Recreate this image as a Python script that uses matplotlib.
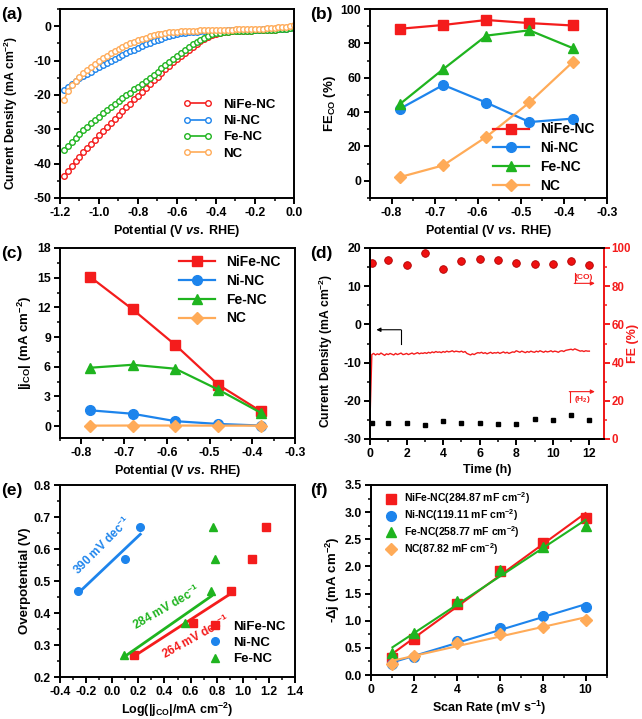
import matplotlib
matplotlib.use("Agg")
import matplotlib.pyplot as plt
from matplotlib.ticker import MultipleLocator
import numpy as np

plt.rcParams["font.family"] = ["Liberation Sans", "DejaVu Sans"]
plt.rcParams["font.weight"] = "bold"
plt.rcParams["axes.labelweight"] = "bold"
plt.rcParams["axes.unicode_minus"] = False
plt.rcParams["mathtext.fontset"] = "custom"
plt.rcParams["mathtext.rm"] = "Liberation Sans:bold"
plt.rcParams["mathtext.bf"] = "Liberation Sans:bold"
plt.rcParams["mathtext.it"] = "Liberation Sans:italic:bold"
plt.rcParams["axes.linewidth"] = 1.4
for ax_ in ("xtick", "ytick"):
    plt.rcParams[ax_ + ".major.width"] = 1.4
    plt.rcParams[ax_ + ".minor.width"] = 1.1
    plt.rcParams[ax_ + ".major.size"] = 4
    plt.rcParams[ax_ + ".minor.size"] = 2.5
    plt.rcParams[ax_ + ".labelsize"] = 8.8
    plt.rcParams[ax_ + ".major.pad"] = 2.5

RED = "#f41c1c"
BLUE = "#1d84ec"
GREEN = "#1fb41f"
ORANGE = "#ffab58"

samples = ["NiFe-NC", "Ni-NC", "Fe-NC", "NC"]
colors = [RED, BLUE, GREEN, ORANGE]

# ---- (a) LSV curves
lsv_potential = np.round(np.linspace(-1.18, 0.0, 60), 2)
lsv_nife = [-43.5, -42.1, -40.7, -39.3, -38.0, -36.7, -35.4, -34.2, -33.0, -31.8,
            -30.6, -29.4, -28.2, -27.0, -25.8, -24.7, -23.6, -22.5, -21.3, -20.2,
            -19.1, -18.0, -16.9, -15.8, -14.7, -13.6, -12.5, -11.5, -10.5, -9.5,
            -8.6, -7.7, -6.8, -6.0, -5.2, -4.4, -3.7, -3.1, -2.6, -2.2,
            -1.9, -1.7, -1.6, -1.5, -1.5, -1.4, -1.4, -1.3, -1.3, -1.2,
            -1.2, -1.1, -1.1, -1.0, -1.0, -0.9, -0.8, -0.7, -0.6, -0.5]
lsv_ni = [-18.5, -17.6, -16.7, -15.9, -15.2, -14.5, -13.8, -13.2, -12.6, -12.0,
          -11.4, -10.8, -10.2, -9.6, -9.0, -8.4, -7.9, -7.3, -6.8, -6.3,
          -5.8, -5.3, -4.8, -4.4, -4.0, -3.6, -3.2, -2.9, -2.6, -2.3,
          -2.1, -1.9, -1.8, -1.7, -1.6, -1.5, -1.5, -1.4, -1.4, -1.3,
          -1.3, -1.3, -1.2, -1.2, -1.2, -1.1, -1.1, -1.1, -1.0, -1.0,
          -1.0, -0.9, -0.9, -0.9, -0.8, -0.8, -0.7, -0.7, -0.6, -0.5]
lsv_fe = [-36.0, -34.8, -33.6, -32.4, -31.3, -30.3, -29.3, -28.3, -27.3, -26.3,
          -25.4, -24.5, -23.6, -22.7, -21.8, -21.0, -20.1, -19.3, -18.4, -17.6,
          -16.7, -15.9, -15.0, -14.1, -13.2, -12.3, -11.4, -10.5, -9.6, -8.7,
          -7.8, -6.9, -6.1, -5.3, -4.6, -3.9, -3.3, -2.8, -2.4, -2.1,
          -1.9, -1.7, -1.6, -1.5, -1.5, -1.4, -1.4, -1.3, -1.3, -1.2,
          -1.2, -1.1, -1.1, -1.0, -1.0, -0.9, -0.8, -0.7, -0.6, -0.5]
lsv_nc = [-21.5, -18.8, -17.2, -16.0, -14.8, -13.7, -12.8, -11.9, -11.0, -10.2,
          -9.4, -8.6, -7.9, -7.2, -6.6, -6.0, -5.5, -5.0, -4.5, -4.1,
          -3.7, -3.3, -3.0, -2.7, -2.4, -2.2, -2.0, -1.8, -1.7, -1.6,
          -1.5, -1.4, -1.4, -1.3, -1.3, -1.2, -1.2, -1.2, -1.1, -1.1,
          -1.1, -1.0, -1.0, -1.0, -0.9, -0.9, -0.9, -0.8, -0.8, -0.8,
          -0.7, -0.7, -0.6, -0.5, -0.4, -0.3, -0.2, -0.1, 0.1, 0.3]

# ---- (b), (c) product analysis
potential = [-0.78, -0.68, -0.58, -0.48, -0.38]
fe_co = {
    "NiFe-NC": [88.5, 90.7, 93.6, 91.8, 90.4],
    "Ni-NC": [42.0, 55.8, 45.5, 34.2, 36.2],
    "Fe-NC": [44.8, 65.0, 84.5, 87.6, 77.3],
    "NC": [2.2, 9.0, 25.6, 45.6, 69.0],
}
j_co = {
    "NiFe-NC": [15.1, 11.8, 8.2, 4.2, 1.5],
    "Ni-NC": [1.6, 1.25, 0.5, 0.22, 0.06],
    "Fe-NC": [5.9, 6.2, 5.8, 3.7, 1.35],
    "NC": [0.05, 0.06, 0.06, 0.05, 0.05],
}

# ---- (d) stability
stab_time = np.linspace(0, 12, 121)
stab_j = [-25.0, -7.9, -7.6, -8.0, -7.7, -7.9, -7.5, -7.8, -8.1, -7.7,
          -7.9, -7.6, -7.8, -8.0, -7.6, -7.9, -7.7, -7.5, -7.9, -7.8,
          -7.6, -7.9, -7.7, -7.5, -7.8, -7.6, -7.4, -7.7, -7.5, -7.6,
          -7.4, -7.6, -7.3, -7.5, -7.2, -7.4, -7.1, -7.3, -7.2, -7.4,
          -7.1, -7.3, -7.0, -7.2, -7.1, -6.9, -7.2, -7.0, -7.1, -7.2,
          -7.0, -7.3, -7.1, -7.6, -7.8, -8.0, -7.7, -7.9, -7.6, -7.4,
          -7.5, -7.3, -7.6, -7.4, -7.7, -7.5, -7.3, -7.6, -7.4, -7.5,
          -7.3, -7.6, -7.4, -7.2, -7.5, -7.3, -7.6, -7.4, -7.2, -7.3,
          -6.9, -7.1, -7.3, -7.0, -7.2, -7.4, -7.1, -7.3, -7.0, -7.2,
          -7.3, -7.0, -7.2, -6.9, -7.1, -7.3, -7.0, -7.2, -7.1, -6.9,
          -7.2, -7.0, -7.1, -7.3, -7.0, -6.9, -7.1, -6.8, -6.7, -6.6,
          -6.5, -6.7, -6.4, -6.6, -6.8, -7.0, -6.9, -7.1, -6.9, -7.0,
          -7.0]
fe_time = [0.1, 1, 2, 3, 4, 5, 6, 7, 8, 9, 10, 11, 12]
fe_co_time = [92.3, 93.7, 90.9, 97.4, 89.1, 93.1, 94.4, 93.5, 92.3, 91.7, 91.6, 93.1, 90.9]
fe_h2_time = [8.6, 8.6, 8.3, 7.4, 9.3, 8.6, 8.6, 7.9, 7.9, 10.5, 10.0, 12.7, 9.8]

# ---- (e) Tafel
tafel_names = ["NiFe-NC", "Ni-NC", "Fe-NC"]
tafel_x = {
    "NiFe-NC": [0.165, 0.62, 0.91, 1.07, 1.175],
    "Ni-NC": [-0.26, 0.10, 0.215],
    "Fe-NC": [0.09, 0.555, 0.76, 0.79, 0.77],
}
tafel_eta = {
    "NiFe-NC": [0.27, 0.37, 0.47, 0.57, 0.67],
    "Ni-NC": [0.47, 0.57, 0.67],
    "Fe-NC": [0.27, 0.37, 0.47, 0.57, 0.67],
}
tafel_slopes = ["264", "390", "284"]

# ---- (f) double layer capacitance
scan_rate = [1, 2, 4, 6, 8, 10]
delta_j = {
    "NiFe-NC": [0.32, 0.67, 1.31, 1.92, 2.44, 2.89],
    "Ni-NC": [0.20, 0.34, 0.62, 0.87, 1.08, 1.26],
    "Fe-NC": [0.40, 0.78, 1.36, 1.93, 2.36, 2.75],
    "NC": [0.20, 0.35, 0.59, 0.76, 0.89, 1.01],
}
cdl_labels = ["NiFe-NC(284.87 mF cm$^{-2}$)", "Ni-NC(119.11 mF cm$^{-2}$)",
              "Fe-NC(258.77 mF cm$^{-2}$)", "NC(87.82 mF cm$^{-2}$)"]

markers = ["s", "o", "^", "D"]
msizes = [6.5, 7, 7.5, 6]

W, H = 642, 719
fig = plt.figure(figsize=(W / 100, H / 100), dpi=100)


def add_ax(l, r, t, b):
    return fig.add_axes([l / W, 1 - b / H, (r - l) / W, (b - t) / H])


ax_a = add_ax(60, 294, 9, 198)
ax_b = add_ax(370, 607, 9, 198)
ax_c = add_ax(60, 295, 248, 438)
ax_d = add_ax(370, 604, 248, 439)
ax_e = add_ax(60, 295, 485, 677)
ax_f = add_ax(371, 607, 485, 675)

XLAB = "Potential (V $\\mathit{vs.}$ RHE)"

# (a)
for y, c, name in zip([lsv_nife, lsv_ni, lsv_fe, lsv_nc], colors, samples):
    ax_a.plot(lsv_potential, y, "-o", color=c, lw=1.2, ms=4, mfc="white",
              mec=c, mew=1.0, label=name)
ax_a.set_xlim(-1.2, 0.0)
ax_a.set_ylim(-50, 5)
ax_a.xaxis.set_major_locator(MultipleLocator(0.2))
ax_a.xaxis.set_minor_locator(MultipleLocator(0.1))
ax_a.yaxis.set_major_locator(MultipleLocator(10))
ax_a.yaxis.set_minor_locator(MultipleLocator(5))
ax_a.xaxis.set_major_formatter(plt.FuncFormatter(lambda v, p: f"{v:.1f}"))
ax_a.set_xlabel(XLAB, fontsize=9, labelpad=3)
ax_a.set_ylabel("Current Density (mA cm$^{-2}$)", fontsize=8.7)
ax_a.yaxis.set_label_coords(-0.17, 0.45)
ax_a.legend(loc="lower right", frameon=False, fontsize=9.5, numpoints=2,
            handlelength=2.2, bbox_to_anchor=(0.97, 0.14), labelspacing=0.3)

# (b)
for name, c, m, s in zip(samples, colors, markers, msizes):
    ax_b.plot(potential, fe_co[name], "-", marker=m, color=c, lw=1.6, ms=s, label=name)
ax_b.set_xlim(-0.85, -0.3)
ax_b.set_ylim(-10, 100)
ax_b.xaxis.set_major_locator(MultipleLocator(0.1))
ax_b.xaxis.set_minor_locator(MultipleLocator(0.05))
ax_b.yaxis.set_major_locator(MultipleLocator(20))
ax_b.yaxis.set_minor_locator(MultipleLocator(10))
ax_b.set_xlabel(XLAB, fontsize=9, labelpad=3)
ax_b.set_ylabel("FE$_{\\rm CO}$ (%)", fontsize=9.5, labelpad=2)
ax_b.legend(loc="lower right", frameon=False, fontsize=10, handlelength=2.6,
            bbox_to_anchor=(1.0, -0.04), labelspacing=0.35)

# (c)
for name, c, m, s in zip(samples, colors, markers, msizes):
    ax_c.plot(potential, j_co[name], "-", marker=m, color=c, lw=1.6, ms=s, label=name)
ax_c.set_xlim(-0.85, -0.3)
ax_c.set_ylim(-1.2, 18)
ax_c.xaxis.set_major_locator(MultipleLocator(0.1))
ax_c.xaxis.set_minor_locator(MultipleLocator(0.05))
ax_c.yaxis.set_major_locator(MultipleLocator(3))
ax_c.yaxis.set_minor_locator(MultipleLocator(1.5))
ax_c.set_xlabel(XLAB, fontsize=9, labelpad=3)
ax_c.set_ylabel("|j$_{\\rm CO}$| (mA cm$^{-2}$)", fontsize=9.5, labelpad=2)
ax_c.legend(loc="upper right", frameon=False, fontsize=10, handlelength=2.6,
            bbox_to_anchor=(0.99, 1.03), labelspacing=0.35)

# (d)
ax_d.plot(stab_time, stab_j, color=RED, lw=1.0)
ax_d.set_xlim(0, 12.8)
ax_d.set_ylim(-30, 20)
ax_d.xaxis.set_major_locator(MultipleLocator(2))
ax_d.xaxis.set_minor_locator(MultipleLocator(1))
ax_d.yaxis.set_major_locator(MultipleLocator(10))
ax_d.yaxis.set_minor_locator(MultipleLocator(5))
ax_d.set_xlabel("Time (h)", fontsize=9, labelpad=3)
ax_d.set_ylabel("Current Density (mA cm$^{-2}$)", fontsize=8.7)
ax_d.yaxis.set_label_coords(-0.15, 0.46)
ax_d2 = ax_d.twinx()
ax_d2.plot(fe_time, fe_co_time, "o", color="#ee1111", mec="#b00000", mew=0.6, ms=5.5)
ax_d2.plot(fe_time, fe_h2_time, "s", color="black", ms=3.5)
ax_d2.set_ylim(0, 100)
ax_d2.yaxis.set_major_locator(MultipleLocator(20))
ax_d2.yaxis.set_minor_locator(MultipleLocator(10))
ax_d2.spines["right"].set_color(RED)
ax_d2.tick_params(axis="y", which="both", colors=RED, pad=1.5, labelsize=8.3)
ax_d2.set_ylabel("FE (%)", fontsize=9, color=RED)
ax_d2.yaxis.set_label_coords(1.1, 0.5)
# arrows
ax_d.plot([1.68, 1.68], [-5.2, -1.4], color="black", lw=0.8)
ax_d.annotate("", xy=(0.35, -1.4), xytext=(1.7, -1.4),
              arrowprops=dict(arrowstyle="-|>", color="black", lw=0.8,
                              mutation_scale=6, shrinkA=0, shrinkB=0))
ax_d2.plot([11.19, 11.19], [81.5, 87.0], color=RED, lw=0.8)
ax_d2.annotate("", xy=(12.3, 81.5), xytext=(11.17, 81.5),
               arrowprops=dict(arrowstyle="-|>", color=RED, lw=0.8,
                               mutation_scale=6, shrinkA=0, shrinkB=0))
ax_d2.text(11.7, 84.3, "(CO)", color=RED, fontsize=6, ha="center", va="center")
ax_d2.plot([10.92, 10.92], [19.3, 24.8], color=RED, lw=0.8)
ax_d2.annotate("", xy=(12.3, 24.8), xytext=(10.9, 24.8),
               arrowprops=dict(arrowstyle="-|>", color=RED, lw=0.8,
                               mutation_scale=6, shrinkA=0, shrinkB=0))
ax_d2.text(11.6, 20.8, "(H$_2$)", color=RED, fontsize=6, ha="center", va="center")

# (e)
tafel_colors = [RED, BLUE, GREEN]
tafel_rot = [29, 45, 30]
tafel_pos = [(0.64, 0.327), (-0.08, 0.61), (0.42, 0.419)]
for name, slope, c, m, rot, pos in zip(tafel_names, tafel_slopes, tafel_colors,
                                       ["s", "o", "^"], tafel_rot, tafel_pos):
    x = np.array(tafel_x[name])
    y = np.array(tafel_eta[name])
    ax_e.plot(x, y, m, color=c, ms=5.5, label=name, ls="none")
    k, b0 = np.polyfit(x[:3], y[:3], 1)
    xx = np.array([x[:3].min(), x[:3].max()])
    ax_e.plot(xx, k * xx + b0, color=c, lw=2)
    ax_e.text(pos[0], pos[1], slope + " mV dec$^{-1}$", color=c,
              rotation=rot, fontsize=8.5, ha="center", va="center")
ax_e.set_xlim(-0.4, 1.4)
ax_e.set_ylim(0.2, 0.8)
ax_e.xaxis.set_major_locator(MultipleLocator(0.2))
ax_e.xaxis.set_minor_locator(MultipleLocator(0.1))
ax_e.yaxis.set_major_locator(MultipleLocator(0.1))
ax_e.yaxis.set_minor_locator(MultipleLocator(0.05))
ax_e.xaxis.set_major_formatter(plt.FuncFormatter(lambda v, p: f"{v:.1f}"))
ax_e.set_xlabel("Log(|j$_{\\rm CO}$|/mA cm$^{-2}$)", fontsize=9, labelpad=2)
ax_e.set_ylabel("Overpotential (V)", fontsize=9.5, labelpad=2)
ax_e.legend(loc="lower right", frameon=False, fontsize=9.5, handletextpad=0.4,
            bbox_to_anchor=(1.01, 0.0), labelspacing=0.3)

# (f)
for name, lab, c, m, s in zip(samples, cdl_labels, colors, markers, msizes):
    y = np.array(delta_j[name])
    ax_f.plot(scan_rate, y, m, color=c, ms=s, ls="none", label=lab)
    k, b0 = np.polyfit(scan_rate, y, 1)
    xx = np.array([1, 10])
    ax_f.plot(xx, k * xx + b0, color=c, lw=1.5)
ax_f.set_xlim(0, 11)
ax_f.set_ylim(0, 3.5)
ax_f.xaxis.set_major_locator(MultipleLocator(2))
ax_f.xaxis.set_minor_locator(MultipleLocator(1))
ax_f.yaxis.set_major_locator(MultipleLocator(0.5))
ax_f.yaxis.set_minor_locator(MultipleLocator(0.25))
ax_f.set_xlabel("Scan Rate (mV s$^{-1}$)", fontsize=9, labelpad=2)
ax_f.set_ylabel("-Δj (mA cm$^{-2}$)", fontsize=9.5, labelpad=2)
ax_f.legend(loc="upper left", frameon=False, fontsize=7.5, handletextpad=0.3,
            bbox_to_anchor=(0.0, 1.02), labelspacing=0.1)

for ax in [ax_a, ax_b, ax_c, ax_d, ax_e, ax_f]:
    ax.tick_params(which="both", direction="out", top=False, right=False)

ax_d2.tick_params(which="both", direction="out", left=False, right=True)

# panel letters
for txt, x, y in [("(a)", 1, 14), ("(b)", 310, 14), ("(c)", 1, 254),
                  ("(d)", 310, 254), ("(e)", 1, 491), ("(f)", 310, 491)]:
    fig.text(x / W, 1 - y / H, txt, fontsize=12.5, fontweight="bold",
             ha="left", va="center")

fig.savefig("out.png", dpi=100)
